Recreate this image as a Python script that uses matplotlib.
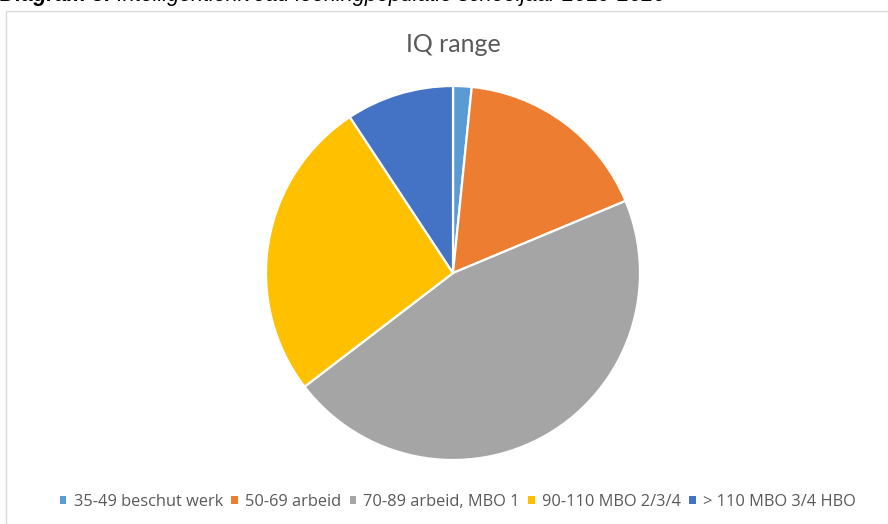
import matplotlib
matplotlib.use('Agg')
import matplotlib.pyplot as plt
from matplotlib.patches import Rectangle, Patch

W, H = 888, 524

labels = ['35-49 beschut werk', '50-69 arbeid', '70-89 arbeid, MBO 1',
          '90-110 MBO 2/3/4', '> 110 MBO 3/4 HBO']
shares = [1.6, 17.1, 45.9, 26.1, 9.3]
colors = ['#5B9BD5', '#ED7D31', '#A5A5A5', '#FFC000', '#4472C4']
chart_title = 'IQ range'
caption_bold = 'Diagram 3:'
caption_rest = ' Intelligentieniveau leerlingpopulatie schooljaar 2019-2020'

fig = plt.figure(figsize=(W / 100, H / 100), dpi=100)

# chart frame (cut off at right/bottom like the screenshot)
fig.patches.append(Rectangle((6 / W, -0.1), 1.2, 1 - 11 / H + 0.1,
                             transform=fig.transFigure, fill=False,
                             edgecolor='#D9D9D9', linewidth=1.0))

# caption above the chart, mostly cut off by the crop
cap_y = 1 - 1.5 / H
t1 = fig.text(0.0, cap_y, caption_bold, fontsize=15.5, fontweight='bold',
              fontstyle='italic', family='Liberation Sans', va='baseline', ha='left')
renderer = fig.canvas.get_renderer()
x_end = t1.get_window_extent(renderer).x1 / W
fig.text(x_end, cap_y, caption_rest, fontsize=15.5,
         fontstyle='italic', family='Liberation Sans', va='baseline', ha='left')

cx, cy, r = 453, 273, 187
ax = fig.add_axes([(cx - r) / W, (H - cy - r) / H, 2 * r / W, 2 * r / H])
ax.pie(shares, colors=colors, startangle=90, counterclock=False,
       wedgeprops=dict(edgecolor='white', linewidth=1.6))
ax.set_xlim(-1, 1)
ax.set_ylim(-1, 1)
ax.set_aspect('equal')

fig.text(cx / W, 1 - 45 / H, chart_title, ha='center', va='center',
         fontsize=18, color='#595959', family='Lato')

handles = [Patch(facecolor=c, edgecolor='none') for c in colors]
fig.legend(handles, labels, loc='center', bbox_to_anchor=(458 / W, 1 - 502 / H),
           ncol=5, frameon=False, labelcolor='#595959',
           prop={'family': 'Open Sans', 'size': 11.8},
           handlelength=0.4, handleheight=0.4, handletextpad=0.45,
           columnspacing=0.5)

fig.savefig('out.png', dpi=100)
